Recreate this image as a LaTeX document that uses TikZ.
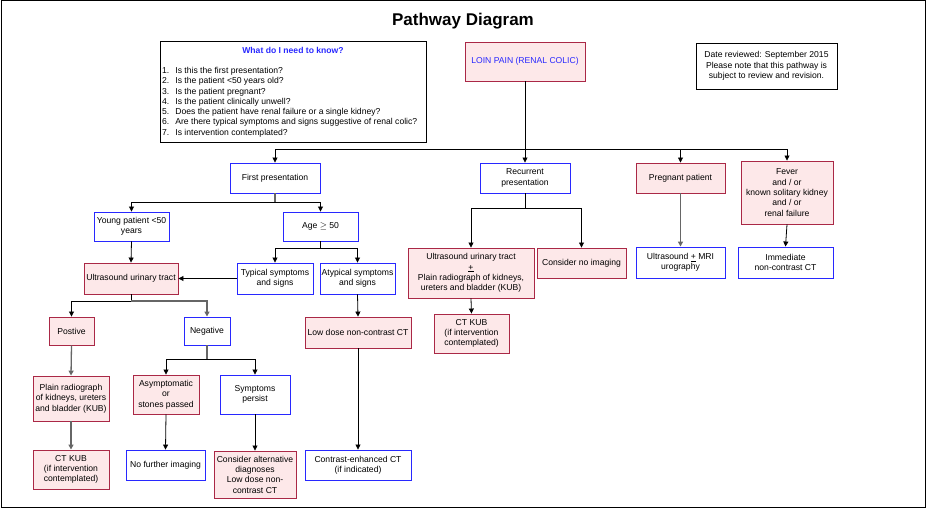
\documentclass[tikz,border=0pt]{standalone}
\usepackage{fontspec}
\setmainfont{Liberation Sans}
\usetikzlibrary{arrows.meta}
\definecolor{pinkf}{RGB}{253,232,233}
\definecolor{redb}{RGB}{170,40,70}
\definecolor{blueb}{RGB}{40,40,255}
\begin{document}
\begin{tikzpicture}[x=1pt,y=-1pt,
  every node/.style={font=\fontsize{8.6}{10.3}\selectfont, align=center, inner sep=1pt},
  box/.style={draw, line width=0.9pt, minimum width=#1},
  pink/.style={box=#1, draw=redb, fill=pinkf},
  blue/.style={box=#1, draw=blueb, fill=white},
  plain/.style={draw=black, line width=0.8pt},
  arr/.style={-{Triangle[length=5pt,width=5pt]}, line width=0.8pt},
  garr/.style={-{Triangle[length=5pt,width=5pt]}, line width=1.3pt, draw=gray!80!black},
  ln/.style={line width=0.8pt},
  gln/.style={line width=1.3pt, draw=gray!80!black}]
\useasboundingbox (0,0) rectangle (927,510);
\draw[line width=1pt] (1,1) rectangle (925,508);
\node (title) at (463,21) {\fontsize{17}{19}\selectfont\bfseries Pathway Diagram};

\node[plain, minimum width=266, minimum height=101] (know) at (293,91.5) {};
\node[text=blueb, font=\fontsize{8.6}{10}\selectfont\bfseries] (knowt) at (293,50) {What do I need to know?};
\node[anchor=north west, align=left, inner sep=0pt] (knowl) at (162,66) {\begin{tabular}{@{}l@{\hspace{6pt}}l@{}}
1. & Is this the first presentation?\\
2. & Is the patient <50 years old?\\
3. & Is the patient pregnant?\\
4. & Is the patient clinically unwell?\\
5. & Does the patient have renal failure or a single kidney?\\
6. & Are there typical symptoms and signs suggestive of renal colic?\\
7. & Is intervention contemplated?\end{tabular}};

\node[pink=120, minimum height=39, text=blueb] (loin) at (525,61.5) {LOIN PAIN (RENAL COLIC)};
\node[plain, minimum width=141, minimum height=46] (date) at (766.5,66) {Date reviewed: September 2015\\Please note that this pathway is\\subject to review and revision.};

\node[blue=90, minimum height=30] (first) at (275,178) {First presentation};
\node[blue=90, minimum height=30] (recur) at (525,178) {Recurrent\\presentation};
\node[pink=89, minimum height=30] (preg) at (680.5,178) {Pregnant patient};
\node[pink=92, minimum height=63] (fever) at (787,192.5) {Fever\\and / or\\known solitary kidney\\and / or\\renal failure};

\node[blue=75, minimum height=29] (young) at (131.5,226.5) {Young patient <50\\years};
\node[blue=75, minimum height=29] (age) at (320.5,226.5) {Age $\geq$ 50};
\node[pink=94, minimum height=31] (us) at (131,278.5) {Ultrasound urinary tract};
\node[blue=76, minimum height=31] (typ) at (275,278.5) {Typical symptoms\\and signs};
\node[blue=75, minimum height=31] (atyp) at (357.5,278.5) {Atypical symptoms\\and signs};

\node[pink=126, minimum height=50] (uskub) at (471,273) {Ultrasound urinary tract\\\underline{+}\\Plain radiograph of kidneys,\\ureters and bladder (KUB)};
\node[pink=89, minimum height=30] (noimg) at (581.5,263) {Consider no imaging};
\node[pink=75, minimum height=39] (ctkubr) at (471.5,333.5) {CT KUB\\(if intervention\\contemplated)};
\node[blue=89, minimum height=31] (usmri) at (680.5,262.5) {Ultrasound \underline{+} MRI\\urography};
\node[blue=95, minimum height=31] (immct) at (785.5,262.5) {Immediate\\non-contrast CT};

\node[pink=45, minimum height=28] (pos) at (71.5,331) {Postive};
\node[blue=46, minimum height=28] (neg) at (207,331) {Negative};
\node[pink=106, minimum height=31] (lowdose) at (358,332.5) {Low dose non-contrast CT};
\node[pink=66, minimum height=39] (asym) at (166,394.5) {Asymptomatic\\or\\stones passed};
\node[blue=70, minimum height=39] (persist) at (255,394.5) {Symptoms\\persist};
\node[pink=76, minimum height=45] (plainr) at (71,398.5) {Plain radiograph\\of kidneys, ureters\\and bladder (KUB)};
\node[pink=76, minimum height=39] (ctkubl) at (71,469.5) {CT KUB\\(if intervention\\contemplated)};
\node[blue=79, minimum height=30] (nofurther) at (165.5,465) {No further imaging};
\node[pink=82, minimum height=47] (altdiag) at (255,474.5) {Consider alternative\\diagnoses\\Low dose non-\\contrast CT};
\node[blue=106, minimum height=30] (contrast) at (358,465) {Contrast-enhanced CT\\(if indicated)};

% top distribution
\coordinate (hb) at (525,149);
\draw[ln] (loin.south) -- (hb);
\draw[arr] (hb) -- (recur.north);
\draw[arr] (hb) -| (first.north);
\draw[arr] (hb) -| (preg.north);
\draw[arr] (hb) -| (fever.north);

% first presentation split
\coordinate (fs) at (275,202);
\draw[gln] (first.south) -- (fs);
\draw[arr] (fs) -| (young.north);
\draw[arr] (fs) -| (age.north);
\draw[arr] (young.south) -- (us.north);
\coordinate (as) at (320.5,248);
\draw[ln] (age.south) -- (as);
\draw[arr] (as) -| (typ.north);
\draw[arr] (as) -| (atyp.north);
\draw[arr] (typ.west) -- (us.east);
\draw[arr] (atyp.south) -- (lowdose.north);
\draw[arr] (lowdose.south) -- (contrast.north);

% ultrasound split
\coordinate (uss) at (131,301);
\draw[ln] (us.south) -- (uss);
\draw[arr] (uss) -| (pos.north);
\draw[garr] (uss) -| (neg.north);
\draw[garr] (pos.south) -- (plainr.north);
\draw[garr] (plainr.south) -- (ctkubl.north);
\coordinate (ns) at (207,359);
\draw[gln] (neg.south) -- (ns);
\draw[arr] (ns) -| (asym.north);
\draw[arr] (ns) -| (persist.north);
\draw[arr] (asym.south) -- (nofurther.north);
\draw[arr] (persist.south) -- (altdiag.north);

% recurrent split
\coordinate (rs) at (525,208);
\draw[ln] (recur.south) -- (rs);
\draw[arr] (rs) -| (uskub.north);
\draw[arr] (rs) -| (noimg.north);
\draw[arr] (uskub.south) -- (ctkubr.north);
\draw[garr] (preg.south) -- (usmri.north);
\draw[arr] (fever.south) -- (immct.north);
\end{tikzpicture}
\end{document}
